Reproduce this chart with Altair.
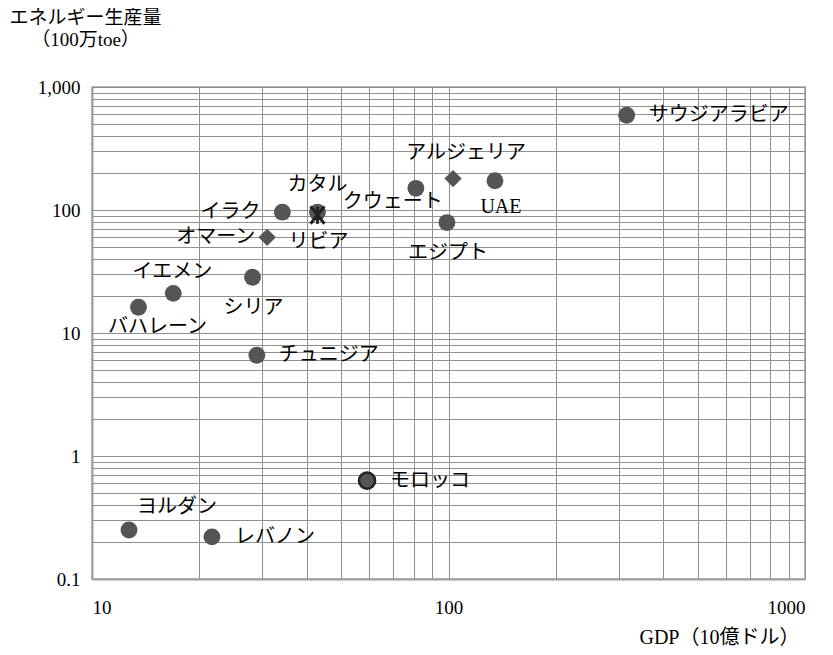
import altair as alt
import pandas as pd

# ---- data ----
countries = ["サウジアラビア", "アルジェリア", "UAE", "クウェート", "エジプト", "イラク",
             "カタル", "リビア", "オマーン", "イエメン", "バハレーン", "シリア",
             "チュニジア", "モロッコ", "ヨルダン", "レバノン"]
gdp = [316, 103, 135, 81, 99, 34.2, 42.9, 42.9, 31, 16.9, 13.5, 28.2, 29, 59.1, 12.7, 21.7]
energy = [590, 180, 173, 150, 79, 96, 96, 91, 60, 21, 16.2, 28.4, 6.6, 0.63, 0.25, 0.22]
series = ["A", "B", "A", "A", "A", "A", "A", "C", "B", "A", "A", "A", "A", "D", "A", "A"]

x_ticks = [10, 20, 30, 40, 50, 60, 70, 80, 90, 100, 200, 300, 400, 500, 600, 700, 800, 900, 1000]
y_ticks = [0.1, 0.2, 0.3, 0.4, 0.5, 0.6, 0.7, 0.8, 0.9,
           1, 2, 3, 4, 5, 6, 7, 8, 9,
           10, 20, 30, 40, 50, 60, 70, 80, 90,
           100, 200, 300, 400, 500, 600, 700, 800, 900, 1000]

# label placement (pixel offsets from the marker, alignment)
label_dx = [22, 13, 6, -23, 1, -22, 0, 1, -12, -1, 19, 1, 22, 23, 8, 23]
label_dy = [0, -26, 26, 14, 30, 0, -27, 27, 0, -21, 20, 31, 0, 0, -23, 0]
label_align = ["left", "center", "center", "center", "center", "right", "center", "center",
               "right", "center", "center", "center", "left", "left", "left", "left"]

df = pd.DataFrame({"country": countries, "gdp": gdp, "energy": energy, "series": series})

FONT = "Liberation Serif, Noto Sans CJK JP"
GRID = "#8f8f8f"

x_enc = alt.X("gdp:Q",
              scale=alt.Scale(type="log", domain=[10, 1000]),
              axis=alt.Axis(values=x_ticks,
                            labelExpr="indexof([10,100,1000], datum.value) >= 0 ? datum.label : ''",
                            format="d",
                            grid=True, gridColor=GRID, gridWidth=1,
                            ticks=False, domainColor="#a0a0a0", domainWidth=2,
                            labelOverlap=False, labelPadding=19, labelFontSize=19,
                            labelFont=FONT, labelColor="#000",
                            title="GDP（10億ドル）", titleFont=FONT, titleFontSize=20,
                            titleFontWeight="normal", titleColor="#000",
                            titleX=707, titleY=58, titleAlign="right",
                            titleBaseline="middle"))
y_enc = alt.Y("energy:Q",
              scale=alt.Scale(type="log", domain=[0.1, 1000]),
              axis=alt.Axis(values=y_ticks,
                            labelExpr="indexof([0.1,1,10,100,1000], datum.value) >= 0 ? format(datum.value, ',') : ''",
                            grid=True, gridColor=GRID, gridWidth=1,
                            ticks=False, domainColor="#a0a0a0", domainWidth=2,
                            labelOverlap=False, labelPadding=12, labelFontSize=19,
                            labelFont=FONT, labelColor="#000",
                            title=["エネルギー生産量", "（100万toe）"],
                            titleFont=FONT, titleFontSize=19, titleFontWeight="normal",
                            titleColor="#000", titleAngle=0, titleX=-7, titleY=-79,
                            titleAlign="center", titleBaseline="top", titleLineHeight=22))

circles = alt.Chart().mark_point(shape="circle", filled=True, size=285, color="#555555",
                                 opacity=1).transform_filter(alt.datum.series == "A")
circle_edge = alt.Chart().mark_point(shape="circle", filled=True, size=260, fill="#555555",
                                     stroke="#222222", strokeWidth=2.5,
                                     opacity=1).transform_filter(alt.datum.series == "D")
diamonds = alt.Chart().mark_point(shape="diamond", filled=True, size=300, color="#555555",
                                  opacity=1).transform_filter(alt.datum.series == "B")
stars = alt.Chart().mark_point(shape="M-0.8,-1L0.8,1M0.8,-1L-0.8,1M0,-1L0,1", filled=False,
                               size=300, stroke="#222222", strokeWidth=3,
                               opacity=1).transform_filter(alt.datum.series == "C")

label_layers = []
for name, dx, dy, al in zip(countries, label_dx, label_dy, label_align):
    label_layers.append(
        alt.Chart().mark_text(dx=dx, dy=dy, align=al, baseline="middle", font=FONT,
                              fontSize=20, color="#000")
        .encode(text="country:N")
        .transform_filter(alt.datum.country == name)
    )

chart = alt.layer(circles, circle_edge, diamonds, stars, *label_layers, data=df).encode(
    x=x_enc, y=y_enc
).properties(
    width=713, height=492,
    autosize=alt.AutoSizeParams(type="none"),
    padding={"left": 84, "top": 79, "right": 20, "bottom": 72},
    background="white",
).configure_view(stroke="#a0a0a0", strokeWidth=1.5)

chart.save("out.html", embed_options={"renderer": "svg", "actions": False})
